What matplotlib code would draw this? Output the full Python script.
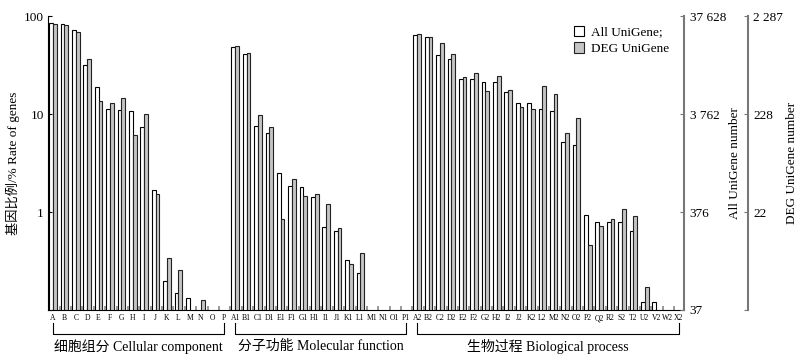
import numpy as np
import matplotlib.pyplot as plt
from matplotlib.patches import Patch
import matplotlib.transforms as mtransforms

plt.rcParams['font.family'] = ['Liberation Serif', 'Noto Sans CJK SC']

labels_cc = ['A', 'B', 'C', 'D', 'E', 'F', 'G', 'H', 'I', 'J', 'K', 'L', 'M', 'N', 'O', 'P']
labels_mf = ['A1', 'B1', 'C1', 'D1', 'E1', 'F1', 'G1', 'H1', 'I1', 'J1', 'K1', 'L1', 'M1', 'N1', 'O1', 'P1']
labels_bp = ['A2', 'B2', 'C2', 'D2', 'E2', 'F2', 'G2', 'H2', 'I2', 'J2', 'K2', 'L2',
             'M2', 'N2', 'O2', 'P2', 'Q2', 'R2', 'S2', 'T2', 'U2', 'V2', 'W2', 'X2']

# rate of genes (%), 0 = no bar
all_cc = [84.3, 82.8, 72.0, 31.8, 18.7, 11.3, 11.0, 10.7, 7.3, 1.66, 0.199, 0.150, 0.134, 0, 0, 0]
deg_cc = [82.2, 80.7, 68.7, 36.2, 13.6, 12.9, 14.5, 6.06, 10.1, 1.53, 0.342, 0.254, 0, 0.126, 0, 0]
all_mf = [48.6, 41.0, 7.5, 6.35, 2.52, 1.84, 1.79, 1.44, 0.70, 0.645, 0.324, 0.239, 0, 0, 0, 0]
deg_mf = [49.5, 41.9, 9.9, 7.3, 0.855, 2.15, 1.46, 1.53, 1.21, 0.68, 0.297, 0.379, 0, 0, 0, 0]
all_bp = [64.4, 61.0, 40.0, 36.1, 22.9, 22.6, 21.5, 21.2, 16.9, 12.9, 12.9, 11.2,
          10.7, 5.14, 4.79, 0.94, 0.80, 0.785, 0.785, 0.64, 0.12, 0.12, 0, 0]
deg_bp = [66.5, 61.0, 53.5, 41.3, 23.9, 26.0, 17.3, 24.4, 17.5, 11.8, 11.2, 19.2,
          15.9, 6.35, 9.04, 0.46, 0.725, 0.843, 1.07, 0.91, 0.173, 0, 0, 0]

groups = ['细胞组分 Cellular component', '分子功能 Molecular function', '生物过程 Biological process']
rate_ticks = [100, 10, 1, 0.1]
all_number_labels = ['37 628', '3 762', '376', '37']
deg_number_labels = ['2 287', '228', '22', '']

labels = labels_cc + labels_mf + labels_bp
all_vals = np.array(all_cc + all_mf + all_bp, dtype=float)
deg_vals = np.array(deg_cc + deg_mf + deg_bp, dtype=float)
all_vals[all_vals == 0] = np.nan
deg_vals[deg_vals == 0] = np.nan
x = np.arange(len(labels))

fig = plt.figure(figsize=(8, 3.59), dpi=100)
ax = fig.add_axes([0.06, 0.1365, 0.795, 0.8185])

w = 0.33
ax.bar(x - w / 2, all_vals, w, color='white', edgecolor='black', linewidth=0.8)
ax.bar(x + w / 2, deg_vals, w, color='#c4c4c4', edgecolor='#222222', linewidth=0.8)

ax.set_yscale('log')
ax.set_ylim(0.1, 100)
ax.set_xlim(-0.45, 55.25)
ax.set_yticks(rate_ticks)
ax.set_yticklabels(['100', '10', '1', ''])
ax.minorticks_off()
ax.tick_params(axis='y', direction='in', length=3, labelsize=9.5, pad=3)
ax.set_xticks(x)
ax.set_xticklabels(labels, fontsize=5.5)
ax.tick_params(axis='x', length=0, pad=3)
ax.set_xticks(x + 0.45, minor=True)
ax.tick_params(axis='x', which='minor', direction='in', length=3, width=0.8)
ax.spines['top'].set_visible(False)
ax.spines['right'].set_visible(False)
ax.spines['left'].set_linewidth(0.8)
ax.spines['bottom'].set_linewidth(0.8)
ax.set_ylabel('基因比例/% Rate of genes', fontsize=9.5, labelpad=3)

trans = mtransforms.blended_transform_factory(ax.transData, ax.transAxes)
ax.vlines(x - 0.42, 0, 0.012, transform=trans, color='#999999', linewidth=1.4)

# group brackets under the axis
starts = [0, 16, 32]
ends = [15, 31, 55]
for s, e, name in zip(starts, ends, groups):
    ax.plot([s, s, e, e], [-0.045, -0.082, -0.082, -0.045], transform=trans,
            color='black', linewidth=0.8, clip_on=False)
    ax.text((s + e) / 2, -0.1, name, transform=trans, ha='center', va='top', fontsize=10)

# right axes
ax2 = ax.twinx()
ax2.set_yscale('log')
ax2.set_ylim(0.1, 100)
ax2.set_yticks(rate_ticks)
ax2.set_yticklabels(all_number_labels)
ax2.minorticks_off()
ax2.tick_params(axis='y', direction='in', length=3, labelsize=9.5, pad=4, color='#777777')
for sp in ['top', 'left', 'bottom']:
    ax2.spines[sp].set_visible(False)
ax2.spines['right'].set_color('#777777')
ax2.spines['right'].set_linewidth(1.5)
ax2.set_ylabel('All UniGene number', fontsize=9.5, labelpad=2)

ax3 = ax.twinx()
ax3.spines['right'].set_position(('axes', 1.1))
ax3.set_yscale('log')
ax3.set_ylim(0.1, 100)
ax3.set_yticks(rate_ticks)
ax3.set_yticklabels(deg_number_labels)
ax3.minorticks_off()
ax3.tick_params(axis='y', direction='in', length=3, labelsize=9.5, pad=4, color='#777777')
for sp in ['top', 'left', 'bottom']:
    ax3.spines[sp].set_visible(False)
ax3.spines['right'].set_color('#777777')
ax3.spines['right'].set_linewidth(1.5)
ax3.set_ylabel('DEG UniGene number', fontsize=9.5, labelpad=2)

handles = [Patch(facecolor='white', edgecolor='black', linewidth=0.8, label='All UniGene;'),
           Patch(facecolor='#c4c4c4', edgecolor='#222222', linewidth=0.8, label='DEG UniGene')]
ax.legend(handles=handles, loc='upper right', bbox_to_anchor=(0.985, 0.985), frameon=False,
          fontsize=9.5, handlelength=0.8, handleheight=0.8, handletextpad=0.5,
          labelspacing=0.3, borderaxespad=0)

fig.savefig('out.png', dpi=100)
